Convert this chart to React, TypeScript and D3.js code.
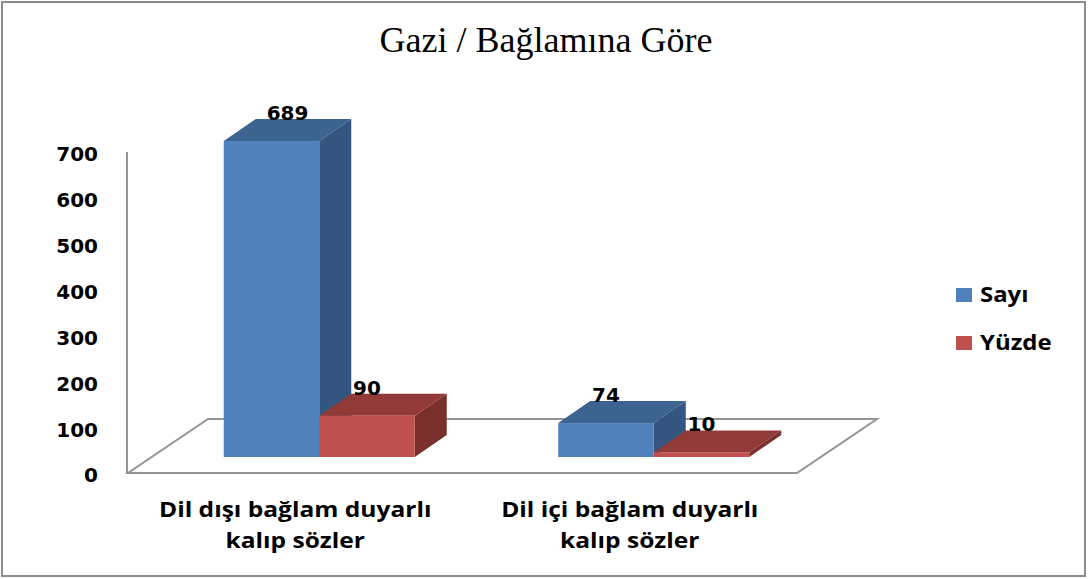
import React, { useRef, useEffect } from 'react';
import * as d3 from 'd3';

const categories = ['Dil dışı bağlam duyarlı kalıp sözler', 'Dil içi bağlam duyarlı kalıp sözler'];
const categoryLines = [
  ['Dil dışı bağlam duyarlı', 'kalıp sözler'],
  ['Dil içi bağlam duyarlı', 'kalıp sözler'],
];
const seriesNames = ['Sayı', 'Yüzde'];
const sayiValues = [689, 74];
const yuzdeValues = [90, 10];
const yTicks = [0, 100, 200, 300, 400, 500, 600, 700];

const W = 1088;
const H = 579;

export default function App() {
  const svgRef = useRef<SVGSVGElement | null>(null);

  useEffect(() => {
    document.body.style.margin = '0';
    const svg = d3.select(svgRef.current);
    svg.selectAll('*').remove();

    // plot geometry (front wall plane)
    const left = 128, right = 797, bottom = 473, top = 152;
    const floorDepth = { dx: 80, dy: -54 };
    const barPlane = { dx: 24, dy: -16 };
    const barDepth = { dx: 32, dy: -22 };

    const colors = {
      'Sayı': { front: '#4f81bd', top: '#3d6391', side: '#33557f' },
      'Yüzde': { front: '#c0504d', top: '#923a38', side: '#7a2f2d' },
    } as Record<string, { front: string; top: string; side: string }>;

    const numFont = '"DejaVu Sans", sans-serif';
    const txtFont = '"Open Sans", sans-serif';

    // outer frame
    svg.append('rect')
      .attr('x', 2).attr('y', 2).attr('width', W - 5).attr('height', H - 5)
      .attr('fill', '#fff').attr('stroke', '#8c8c8c').attr('stroke-width', 2);

    // title
    svg.append('text')
      .attr('x', 546).attr('y', 52)
      .attr('text-anchor', 'middle')
      .style('font-family', '"Liberation Serif", "Times New Roman", serif')
      .style('font-size', '36px')
      .attr('fill', '#000')
      .text('Gazi / Bağlamına Göre');

    const y = d3.scaleLinear().domain([0, 700]).range([bottom, top]);
    const x0 = d3.scaleBand<string>().domain(categories).range([left, right]);
    const groupW = x0.bandwidth() * 0.571;
    const x1 = d3.scaleBand<string>().domain(seriesNames).range([0, groupW]);

    // floor
    const floor = [
      [left, bottom],
      [right, bottom],
      [right + floorDepth.dx, bottom + floorDepth.dy],
      [left + floorDepth.dx, bottom + floorDepth.dy],
    ];
    svg.append('path')
      .attr('d', 'M' + floor.map(p => p.join(',')).join('L') + 'Z')
      .attr('fill', 'none').attr('stroke', '#949494').attr('stroke-width', 2);

    // vertical axis
    svg.append('line')
      .attr('x1', left - 1).attr('x2', left - 1)
      .attr('y1', y(700)).attr('y2', bottom)
      .attr('stroke', '#949494').attr('stroke-width', 2);

    // y tick labels
    svg.append('g').selectAll('text')
      .data(yTicks)
      .enter().append('text')
      .attr('x', 98)
      .attr('y', d => y(d))
      .attr('dy', '0.47em')
      .attr('text-anchor', 'end')
      .style('font-family', numFont)
      .style('font-weight', '700')
      .style('font-size', '20px')
      .text(d => d);

    // bars
    const bars = categories.flatMap((c, i) => [
      { cat: c, key: 'Sayı', value: sayiValues[i] },
      { cat: c, key: 'Yüzde', value: yuzdeValues[i] },
    ]);

    const g = svg.append('g');
    bars.forEach(b => {
      const gx = (x0(b.cat) as number) + (x0.bandwidth() - groupW) / 2 + barPlane.dx;
      const fx0 = gx + (x1(b.key) as number);
      const fx1 = fx0 + x1.bandwidth();
      const fy0 = bottom + barPlane.dy;
      const fy1 = y(b.value) + barPlane.dy;
      const c = colors[b.key];
      const { dx, dy } = barDepth;
      // top face
      g.append('path')
        .attr('d', `M${fx0},${fy1}L${fx1},${fy1}L${fx1 + dx},${fy1 + dy}L${fx0 + dx},${fy1 + dy}Z`)
        .attr('fill', c.top);
      // side face
      g.append('path')
        .attr('d', `M${fx1},${fy1}L${fx1 + dx},${fy1 + dy}L${fx1 + dx},${fy0 + dy}L${fx1},${fy0}Z`)
        .attr('fill', c.side);
      // front face
      g.append('rect')
        .attr('x', fx0).attr('y', fy1)
        .attr('width', fx1 - fx0).attr('height', Math.max(fy0 - fy1, 0))
        .attr('fill', c.front);
    });

    // data labels
    svg.append('g').selectAll('text')
      .data(bars)
      .enter().append('text')
      .attr('x', d => (x0(d.cat) as number) + (x0.bandwidth() - groupW) / 2 + barPlane.dx + (x1(d.key) as number) + x1.bandwidth() / 2 + (d.value > 600 ? 16 : 0))
      .attr('y', d => y(d.value) + barPlane.dy + barDepth.dy + 1)
      .attr('text-anchor', 'middle')
      .style('font-family', numFont)
      .style('font-weight', '700')
      .style('font-size', '20px')
      .text(d => d.value);

    // category labels (slightly stretched, like the original)
    const cl = svg.append('g');
    categories.forEach((c, i) => {
      const cx = (x0(c) as number) + x0.bandwidth() / 2;
      categoryLines[i].forEach((line, j) => {
        cl.append('text')
          .attr('transform', `translate(${cx},${517 + j * 31}) scale(1.17,1)`)
          .attr('text-anchor', 'middle')
          .style('font-family', txtFont)
          .style('font-weight', '700')
          .style('font-size', '21px')
          .text(line);
      });
    });

    // legend
    const lg = svg.append('g').attr('transform', 'translate(956,288)');
    seriesNames.forEach((s, i) => {
      lg.append('rect')
        .attr('x', 0).attr('y', i * 48)
        .attr('width', 16).attr('height', 14)
        .attr('fill', colors[s].front);
      lg.append('text')
        .attr('transform', `translate(24,${i * 48 + 14}) scale(1.14,1)`)
        .style('font-family', txtFont)
        .style('font-weight', '700')
        .style('font-size', '21px')
        .text(s);
    });
  }, []);

  return <svg ref={svgRef} width={W} height={H} style={{ display: 'block' }} />;
}
